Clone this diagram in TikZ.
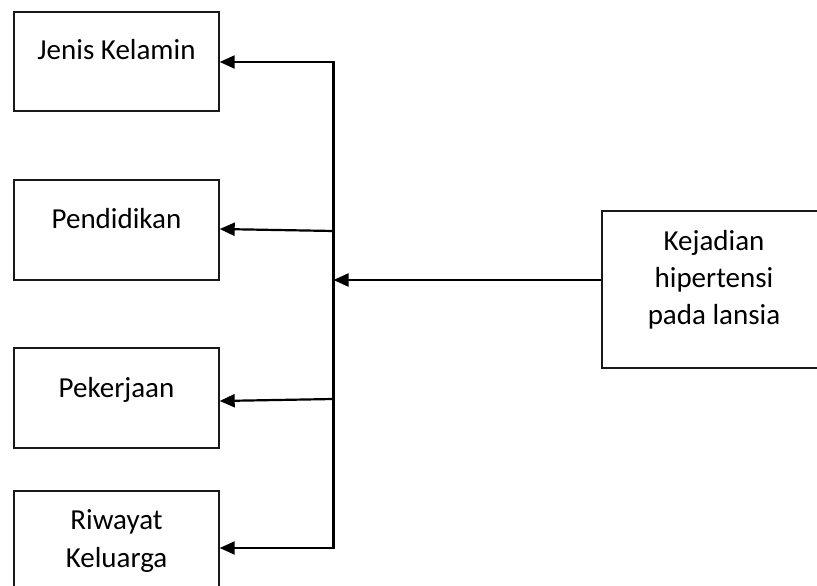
\documentclass[tikz,border=0pt]{standalone}
\usepackage{fontspec}
\setmainfont{Carlito}
\usetikzlibrary{arrows.meta}
\begin{document}
\begin{tikzpicture}[x=1pt,y=-1pt,
  box/.style={draw=black!90,line width=1.4pt,rectangle,inner sep=0pt},
  lbl/.style={anchor=base,inner sep=0pt,font=\fontsize{29}{37}\selectfont},
  arr/.style={line width=2.2pt,-{Triangle[length=15pt,width=13pt]}}]
\useasboundingbox (0,0) rectangle (817,586);
\clip (0,0) rectangle (817,586);
% boxes
\node[box,minimum width=205pt,minimum height=99pt] (jk) at (116.5,61.5) {};
\node[box,minimum width=205pt,minimum height=100pt] (pd) at (116.5,230) {};
\node[box,minimum width=205pt,minimum height=100pt] (pk) at (116.5,398) {};
\node[box,minimum width=205pt,minimum height=120pt] (rk) at (116.5,551) {};
\node[box,minimum width=224pt,minimum height=157pt] (kh) at (714,289.5) {};
% labels
\node[lbl] (t1) at (116.5,60) {Jenis Kelamin};
\node[lbl] (t2) at (116.5,228) {Pendidikan};
\node[lbl] (t3) at (116.5,397) {Pekerjaan};
\node[lbl] (t4a) at (116.5,529) {Riwayat};
\node[lbl] (t4b) at (116.5,567) {Keluarga};
\node[lbl] (t5a) at (714,250) {Kejadian};
\node[lbl] (t5b) at (714,287) {hipertensi};
\node[lbl] (t5c) at (714,324) {pada lansia};
% bus coordinates
\coordinate (b1) at (333.5,62);
\coordinate (b2) at (333.5,231);
\coordinate (bm) at (333.5,280);
\coordinate (b3) at (333.5,399);
\coordinate (b4) at (333.5,548);
% connectors
\draw[arr] (bm) -- (b1) -- (jk.east |- b1);
\draw[arr] (bm) -- (b4) -- (rk.east |- b4);
\draw[arr] (b2) -- ([yshift=1pt]pd.east);
\draw[arr] (b3) -- ([yshift=-3pt]pk.east);
\draw[arr] (kh.west |- bm) -- (bm);
\end{tikzpicture}
\end{document}
